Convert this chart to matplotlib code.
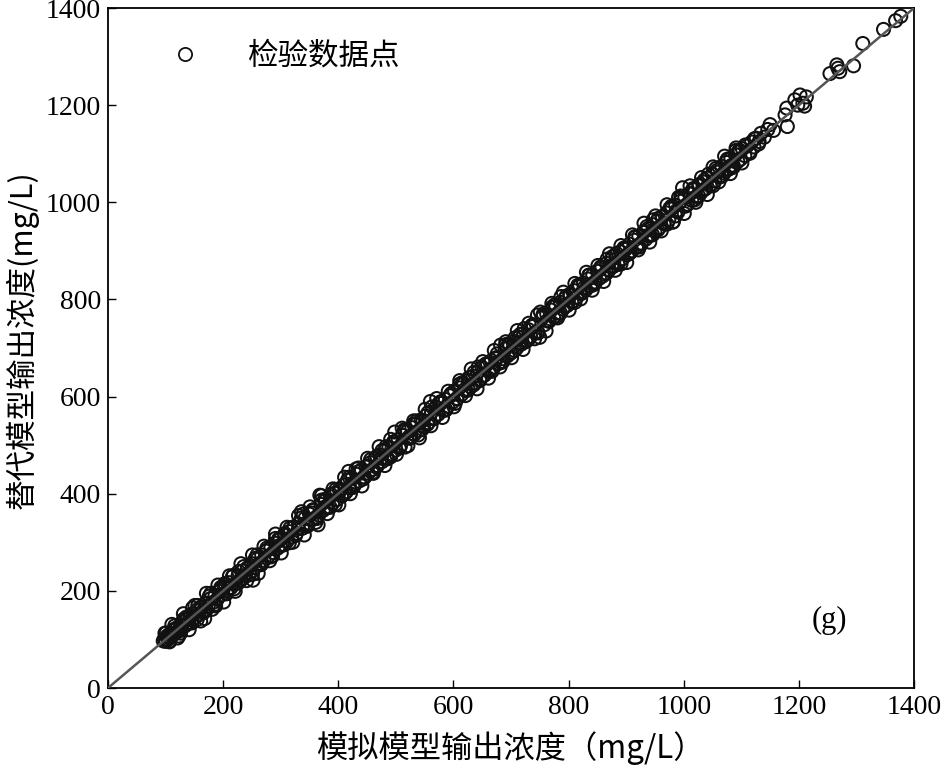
import matplotlib
matplotlib.use("Agg")
import matplotlib.pyplot as plt
from matplotlib.lines import Line2D

# ---- data ----
sim = [96, 98, 100, 102, 104, 106, 108, 110, 112, 115, 118, 120, 123, 126, 128, 131, 134, 137, 140, 143,
       146, 149, 152, 155, 158, 161, 165, 168, 170, 174, 178, 182, 186, 190, 194, 198, 202, 206, 210, 214,
       218, 222, 226, 230, 234, 238, 242, 246, 250, 252, 255, 259, 263, 267, 271, 275, 279, 283, 287, 291,
       295, 299, 303, 307, 311, 315, 319, 323, 327, 331, 336, 338, 342, 346, 350, 354, 358, 362, 365, 368,
       370, 374, 378, 382, 386, 390, 394, 398, 402, 406, 410, 414, 418, 420, 424, 428, 432, 436, 440, 444,
       448, 452, 456, 460, 464, 468, 472, 476, 480, 484, 488, 492, 496, 498, 500, 504, 508, 512, 516, 520,
       524, 528, 532, 536, 540, 544, 548, 552, 556, 560, 562, 566, 570, 574, 578, 582, 586, 590, 594, 598,
       602, 606, 610, 614, 618, 622, 626, 630, 634, 638, 642, 646, 650, 654, 658, 662, 666, 670, 674, 678,
       682, 686, 690, 694, 698, 702, 706, 710, 714, 718, 722, 726, 730, 734, 738, 742, 746, 750, 754, 758,
       762, 766, 770, 774, 778, 782, 786, 790, 794, 798, 802, 806, 810, 814, 818, 822, 826, 830, 834, 838,
       842, 846, 850, 854, 858, 862, 866, 870, 874, 878, 882, 886, 890, 894, 898, 902, 906, 910, 914, 918,
       922, 926, 930, 934, 938, 942, 946, 950, 954, 958, 962, 966, 970, 974, 978, 982, 986, 990, 994, 998,
       1002, 1006, 1010, 1014, 1018, 1022, 1026, 1030, 1034, 1038, 1042, 1046, 1050, 1054, 1058, 1062, 1066, 1070, 1074, 1078,
       1082, 1086, 1090, 1094, 1098, 1102, 1106, 1110, 1114, 1118, 1122, 1126, 1130, 1134, 1140, 1146, 1150, 1156, 1176, 1179,
       1180, 1193, 1202, 1207, 1213, 1198, 1210, 1254, 1266, 1271, 1268, 1295, 1311, 1347, 1368, 1377]

sur = [97, 101, 96, 106, 100, 110, 104, 113, 108, 119, 114, 124, 117, 130, 122, 136, 128, 141, 133, 147,
       140, 153, 146, 161, 151, 166, 158, 143, 175, 168, 184, 176, 191, 183, 199, 192, 208, 199, 217, 207,
       232, 215, 231, 221, 241, 232, 247, 238, 256, 222, 248, 265, 256, 274, 263, 283, 272, 289, 279, 298,
       288, 306, 294, 314, 302, 322, 311, 331, 318, 338, 363, 329, 349, 338, 358, 346, 366, 352, 336, 397,
       378, 366, 386, 372, 394, 380, 401, 388, 410, 396, 418, 404, 446, 412, 432, 418, 440, 426, 448, 434,
       455, 442, 464, 450, 472, 458, 480, 466, 488, 474, 496, 482, 503, 527, 490, 512, 498, 520, 496, 528,
       514, 536, 522, 544, 530, 552, 538, 560, 546, 590, 568, 556, 578, 564, 586, 572, 594, 580, 602, 588,
       612, 596, 618, 604, 626, 612, 634, 620, 642, 628, 650, 636, 660, 644, 666, 652, 674, 660, 680, 668,
       706, 678, 698, 684, 706, 692, 714, 700, 722, 708, 730, 716, 738, 724, 748, 732, 768, 722, 762, 748,
       770, 756, 778, 764, 786, 772, 794, 780, 802, 788, 810, 796, 818, 804, 826, 812, 834, 820, 842, 828,
       850, 836, 858, 844, 866, 852, 874, 860, 882, 868, 890, 876, 898, 884, 906, 892, 914, 900, 922, 908,
       930, 916, 938, 924, 946, 932, 954, 940, 962, 948, 970, 956, 978, 964, 986, 960, 994, 980, 1002, 1030,
       1010, 996, 1018, 1004, 1026, 1012, 1034, 1020, 1042, 1028, 1050, 1036, 1058, 1044, 1066, 1052, 1074, 1060, 1082, 1068,
       1090, 1076, 1098, 1084, 1106, 1110, 1096, 1116, 1104, 1124, 1114, 1132, 1120, 1142, 1134, 1150, 1160, 1148, 1180, 1194,
       1156, 1211, 1221, 1204, 1217, 1200, 1198, 1265, 1283, 1269, 1276, 1281, 1327, 1356, 1374, 1383]

sim_b = [99, 107, 115, 123, 131, 139, 147, 155, 163, 171, 179, 187, 195, 203, 211, 219, 227, 235, 243, 251,
         259, 267, 275, 283, 291, 299, 307, 315, 323, 331, 339, 347, 355, 363, 371, 379, 387, 395, 403, 411,
         419, 427, 435, 443, 451, 459, 467, 475, 483, 491, 499, 507, 515, 523, 531, 539, 547, 555, 563, 571,
         579, 587, 595, 603, 611, 619, 627, 635, 643, 651, 659, 667, 675, 683, 691, 699, 707, 715, 723, 731,
         739, 747, 755, 763, 771, 779, 787, 795, 803, 811, 819, 827, 835, 843, 851, 859, 867, 875, 883, 891,
         899, 907, 915, 923, 931, 939, 947, 955, 963, 971, 979, 987, 995, 1003, 1011, 1019, 1027, 1035, 1043, 1051,
         1059, 1067, 1075, 1083, 1091, 1099, 1107, 1115, 1123, 1131]

sur_b = [113, 95, 121, 107, 141, 135, 165, 141, 165, 161, 195, 169, 203, 215, 205, 204, 240, 226, 247, 234,
         274, 256, 282, 270, 308, 294, 318, 299, 332, 328, 358, 335, 360, 349, 387, 371, 399, 378, 406, 400,
         434, 420, 453, 430, 457, 443, 477, 473, 497, 476, 507, 497, 532, 517, 544, 521, 551, 543, 579, 562,
         590, 573, 602, 586, 626, 614, 639, 624, 661, 643, 668, 652, 678, 670, 707, 689, 721, 711, 740, 719,
         745, 731, 765, 756, 784, 765, 806, 786, 808, 794, 830, 824, 850, 830, 859, 848, 883, 869, 895, 873,
         903, 897, 929, 908, 940, 931, 964, 943, 970, 955, 992, 982, 1013, 992, 1017, 1005, 1037, 1026, 1058, 1034,
         1062, 1054, 1087, 1076, 1107, 1089, 1118, 1101, 1131, 1125]

sim_c = [101, 111, 121, 131, 141, 151, 161, 171, 181, 191, 201, 211, 221, 231, 241, 251, 261, 271, 281, 291,
         301, 311, 321, 331, 341, 351, 361, 371, 381, 391, 401, 411, 421, 431, 441, 451, 461, 471, 481, 491,
         501, 511, 521, 531, 541, 551, 561, 571, 581, 591, 601, 611, 621, 631, 641, 651, 661, 671, 681, 691,
         701, 711, 721, 731, 741, 751, 761, 771, 781, 791, 801, 811, 821, 831, 841, 851, 861, 871, 881, 891,
         901, 911, 921, 931, 941, 951, 961, 971, 981, 991, 1001, 1011, 1021, 1031, 1041, 1051, 1061, 1071, 1081, 1091,
         1101]

sur_c = [113, 131, 103, 153, 120, 170, 138, 195, 162, 212, 177, 231, 199, 256, 221, 274, 236, 292, 262, 317,
         278, 331, 300, 355, 315, 373, 341, 396, 359, 410, 377, 434, 400, 451, 416, 473, 442, 497, 458, 512,
         481, 535, 499, 550, 515, 574, 540, 596, 557, 611, 579, 633, 602, 657, 616, 672, 638, 695, 661, 713,
         680, 736, 697, 751, 719, 774, 735, 792, 762, 815, 778, 833, 801, 856, 819, 870, 837, 894, 860, 911,
         876, 933, 902, 957, 918, 972, 941, 995, 959, 1010, 977, 1034, 1000, 1051, 1016, 1073, 1042, 1095, 1059, 1112,
         1081]

sim_d = [106, 116, 126, 136, 146, 156, 166, 176, 186, 196, 206, 216, 226, 236, 246, 256, 266, 276, 286, 296,
         306, 316, 326, 336, 346, 356, 366, 376, 386, 396, 406, 416, 426, 436, 446, 456, 466, 476, 486, 496,
         506, 516, 526, 536, 546, 556, 566, 576, 586, 596, 606, 616, 626, 636, 646, 656, 666, 676, 686, 696,
         706, 716, 726, 736, 746, 756, 766, 776, 786, 796, 806, 816, 826, 836, 846, 856, 866, 876, 886, 896,
         906, 916, 926, 936, 946, 956, 966, 976, 986, 996, 1006, 1016, 1026, 1036, 1046, 1056, 1066, 1076, 1086, 1096]

sur_d = [96, 128, 113, 146, 134, 170, 155, 189, 172, 207, 194, 229, 216, 250, 233, 267, 254, 288, 272, 306,
         295, 329, 314, 350, 333, 367, 356, 388, 372, 409, 395, 428, 413, 446, 434, 470, 455, 489, 472, 507,
         494, 529, 516, 550, 533, 567, 554, 588, 572, 606, 595, 629, 614, 650, 633, 667, 656, 688, 672, 709,
         695, 728, 713, 746, 734, 770, 755, 789, 772, 807, 794, 829, 816, 850, 833, 867, 854, 888, 872, 906,
         895, 929, 914, 950, 933, 967, 956, 988, 972, 1009, 995, 1028, 1013, 1046, 1034, 1070, 1055, 1089, 1072, 1107]

diag = [0, 1400]
ticks = [0, 200, 400, 600, 800, 1000, 1200, 1400]
legend_label = "检验数据点"
xlabel = "模拟模型输出浓度（mg/L）"
ylabel = "替代模型输出浓度(mg/L)"

# ---- fonts ----
serif = ["Liberation Serif", "DejaVu Serif"]
cjk = ["Noto Sans CJK SC", "Liberation Serif"]

fig = plt.figure(figsize=(9.42, 7.79), dpi=100)
ax = fig.add_axes([0.1146, 0.1168, 0.8557, 0.8729])

all_sim = sim + sim_b + sim_c + sim_d
all_sur = sur + sur_b + sur_c + sur_d

ax.plot(diag, diag, color="#555555", lw=1.8, zorder=3)
ax.scatter(all_sim, all_sur, s=88, facecolors="none", edgecolors="#111111",
           linewidths=1.45, zorder=2)

ax.set_xlim(0, 1400)
ax.set_ylim(0, 1400)
ax.set_xticks(ticks)
ax.set_yticks(ticks)
ax.tick_params(direction="in", length=6, width=1.0, labelsize=20, top=False, right=False, pad=5)
for lab in ax.get_xticklabels() + ax.get_yticklabels():
    lab.set_fontfamily(serif)
for sp in ax.spines.values():
    sp.set_linewidth(1.3)

xl = ax.set_xlabel(xlabel, fontsize=22.5, family=cjk)
yl = ax.set_ylabel(ylabel, fontsize=22, family=cjk)
xl.set_verticalalignment("center")
yl.set_verticalalignment("center")
ax.xaxis.set_label_coords(0.499, -0.088)
ax.yaxis.set_label_coords(-0.107, 0.512)

handle = Line2D([], [], marker="o", linestyle="none", markersize=9.5,
                markerfacecolor="none", markeredgecolor="#111111", markeredgewidth=1.3)
leg = ax.legend([handle], [legend_label], loc="upper left", frameon=False,
                prop={"family": cjk, "size": 22}, handlelength=2.0, handletextpad=1.06,
                bbox_to_anchor=(0.042, 0.97), borderaxespad=0)

ax.text(0.895, 0.10, "(g)", transform=ax.transAxes, fontsize=22, family=serif,
        ha="center", va="center")

fig.savefig("out.png", dpi=100)
